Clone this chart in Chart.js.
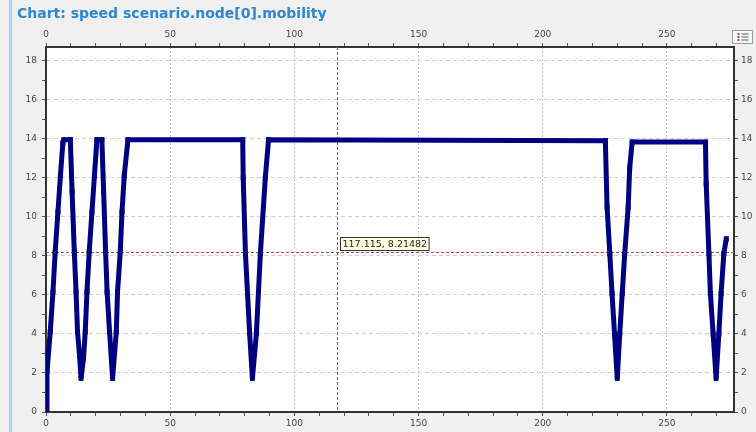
<!DOCTYPE html>
<html>
<head>
<meta charset="utf-8">
<script src="https://cdn.jsdelivr.net/npm/chart.js@4.4.1/dist/chart.umd.min.js"></script>
<style>
  html, body { margin: 0; padding: 0; background: #f0f0f0; }
  #wrap { position: relative; width: 756px; height: 432px; overflow: hidden; }
  #chart { position: absolute; left: 0; top: 0; }
  #strip { position: absolute; left: 9px; top: 0; width: 3px; height: 432px; background: #b4cdea; }
  #title { position: absolute; left: 17px; top: 5px; font: bold 14px "DejaVu Sans", sans-serif; line-height: 16px; color: #2b86d6; white-space: nowrap; }
</style>
</head>
<body>
<div id="wrap">
  <canvas id="chart" width="756" height="432"></canvas>
  <div id="strip"></div>
  <div id="title">Chart: speed scenario.node[0].mobility</div>
</div>
<script>
// speed of node[0] over time
var timeValues = [0, 0.4, 1.7, 2.8, 3.7, 4.8, 5.8, 6.8, 7.2, 9.8,
  10.5, 11.4, 12.1, 12.7, 13.5, 14.1, 15.1, 15.8, 16.5, 17.4, 18.5, 19.5, 20.5, 22.5,
  23.2, 24.0, 24.6, 25.6, 26.8, 28.3, 28.8, 29.9, 30.6, 31.5, 33.0,
  79.2, 79.4, 80.3, 82.0, 83.1, 84.7, 86.3, 88.3, 89.6,
  225.2, 225.9, 227.0, 227.9, 228.9, 230.0, 231.0, 232.0, 233.0, 234.4, 235.0, 236.0,
  265.5, 265.8, 266.9, 267.5, 268.6, 269.8, 270.9, 271.8, 272.9, 273.9];
var speedValues = [0, 2.06, 4.1, 6.15, 8.2, 10.25, 12.1, 13.8, 13.95, 13.95,
  11.3, 8.2, 6.15, 4.1, 2.9, 1.72, 2.75, 4.1, 6.15, 8.2, 10.25, 12.1, 13.95, 13.95,
  11.3, 8.2, 6.15, 4.1, 1.72, 4.1, 6.15, 8.2, 10.25, 12.1, 13.95,
  13.95, 12.0, 8.1, 4.0, 1.72, 4.0, 8.1, 12.0, 13.95,
  13.9, 10.5, 8.1, 6.07, 4.0, 1.72, 4.0, 6.07, 8.1, 10.5, 12.5, 13.83,
  13.83, 11.7, 8.1, 6.07, 4.0, 1.72, 4.0, 6.07, 8.1, 8.88];

var xMax = 277;
var yMax = 18.7;
var xTickStep = 10;   // minor tick marks
var xLabelStep = 50;  // labelled ticks + grid
var yTickStep = 1;
var yLabelStep = 2;

// crosshair cursor
var cursorX = 117.115;
var cursorY = 8.21482;
var cursorLabel = "117.115, 8.21482";

var tickFont = { family: "DejaVu Sans", size: 9 };
var tickColor = "#474747";

var points = [];
for (var i = 0; i < timeValues.length; i++) {
  points.push({ x: timeValues[i], y: speedValues[i] });
}

function xLabel(v) { return v % xLabelStep === 0 ? v : ""; }
function yLabel(v) { return v % yLabelStep === 0 ? v : ""; }

function xAxis(pos, onArea) {
  return {
    type: "linear",
    position: pos,
    min: 0,
    max: xMax,
    ticks: {
      stepSize: xTickStep, includeBounds: false, autoSkip: false, maxRotation: 0,
      padding: pos == "top" ? 3 : 2, font: tickFont, color: tickColor, callback: xLabel
    },
    grid: {
      drawOnChartArea: onArea,
      color: function(ctx) {
        if (ctx.tick && ctx.tick.value % xLabelStep === 0 && ctx.tick.value !== 0) return "#c4c4c4";
        return "rgba(0,0,0,0)";
      },
      tickColor: "#555",
      tickLength: 4,
      lineWidth: 1
    },
    border: { color: "#333", width: 2, dash: [2, 2] },
    afterFit: function(scale) { scale.height = 20; }
  };
}

function yAxis(pos, onArea) {
  return {
    type: "linear",
    position: pos,
    min: 0,
    max: yMax,
    ticks: {
      stepSize: yTickStep, includeBounds: false, autoSkip: false,
      padding: pos == "left" ? 5 : 3, font: tickFont, color: tickColor, callback: yLabel
    },
    grid: {
      drawOnChartArea: onArea,
      color: function(ctx) {
        if (ctx.tick && ctx.tick.value % yLabelStep === 0 && ctx.tick.value !== 0) return "#d6cccc";
        return "rgba(0,0,0,0)";
      },
      tickColor: "#555",
      tickLength: 4,
      lineWidth: 1
    },
    border: { color: "#333", width: 2, dash: [4, 3] },
    afterFit: function(scale) { scale.width = pos == "left" ? 36 : 22; }
  };
}

// white plot background
var plotBg = {
  id: "plotBg",
  beforeDraw: function(chart) {
    var a = chart.chartArea, ctx = chart.ctx;
    ctx.save();
    ctx.fillStyle = "#ffffff";
    ctx.fillRect(a.left, a.top, a.right - a.left, a.bottom - a.top);
    ctx.restore();
  }
};

// red dashed crosshair and its value box
var crosshair = {
  id: "crosshair",
  beforeDatasetsDraw: function(chart) {
    var a = chart.chartArea, ctx = chart.ctx;
    var px = chart.scales.x.getPixelForValue(cursorX);
    var py = chart.scales.y.getPixelForValue(cursorY);
    ctx.save();
    ctx.strokeStyle = "#c24a4a";
    ctx.lineWidth = 1;
    ctx.setLineDash([3, 2]);
    ctx.beginPath();
    ctx.moveTo(Math.round(px) + 0.5, a.top);
    ctx.lineTo(Math.round(px) + 0.5, a.bottom);
    ctx.moveTo(a.left, Math.round(py) + 0.5);
    ctx.lineTo(a.right, Math.round(py) + 0.5);
    ctx.stroke();
    ctx.restore();
  },
  afterDatasetsDraw: function(chart) {
    var ctx = chart.ctx;
    var px = chart.scales.x.getPixelForValue(cursorX);
    var py = chart.scales.y.getPixelForValue(cursorY);
    ctx.save();
    ctx.font = "9.5px 'DejaVu Sans', sans-serif";
    var w = ctx.measureText(cursorLabel).width + 4;
    var bx = Math.round(px) + 3.5, by = Math.round(py) - 14.5;
    ctx.fillStyle = "#ffffe1";
    ctx.fillRect(bx, by, w, 13);
    ctx.strokeStyle = "#333";
    ctx.lineWidth = 1;
    ctx.strokeRect(bx, by, w, 13);
    ctx.fillStyle = "#222";
    ctx.textBaseline = "middle";
    ctx.fillText(cursorLabel, bx + 2, by + 7);
    ctx.restore();
  }
};

// small legend button in the top right corner
var legendButton = {
  id: "legendButton",
  afterDraw: function(chart) {
    var ctx = chart.ctx;
    var x = 732.5, y = 30.5;
    ctx.save();
    ctx.fillStyle = "#f6f6f6";
    ctx.fillRect(x, y, 20, 13);
    ctx.strokeStyle = "#9a9a9a";
    ctx.strokeRect(x, y, 20, 13);
    var rows = [3, 6, 9];
    var dots = ["#d04040", "#3060c0", "#d04040"];
    for (var r = 0; r < rows.length; r++) {
      ctx.fillStyle = dots[r];
      ctx.fillRect(x + 5, y + rows[r] - 0.5, 2, 2);
      ctx.fillStyle = "#50607a";
      ctx.fillRect(x + 9, y + rows[r], 7, 1);
    }
    ctx.restore();
  }
};

new Chart(document.getElementById("chart"), {
  type: "line",
  data: {
    datasets: [{
      label: "speed",
      data: points,
      borderColor: "#000080",
      borderWidth: 5,
      pointStyle: "rect",
      pointRadius: 3.5,
      pointBackgroundColor: "#000080",
      pointBorderColor: "#000080",
      pointBorderWidth: 0,
      tension: 0,
      fill: false
    }]
  },
  options: {
    responsive: false,
    animation: false,
    devicePixelRatio: 1,
    layout: { padding: { top: 27, left: 10, right: 0, bottom: 0 } },
    plugins: {
      legend: { display: false },
      tooltip: { enabled: false },
      title: { display: false }
    },
    scales: {
      x: xAxis("bottom", true),
      xTop: xAxis("top", false),
      y: yAxis("left", true),
      yRight: yAxis("right", false)
    }
  },
  plugins: [plotBg, crosshair, legendButton]
});
</script>
</body>
</html>
